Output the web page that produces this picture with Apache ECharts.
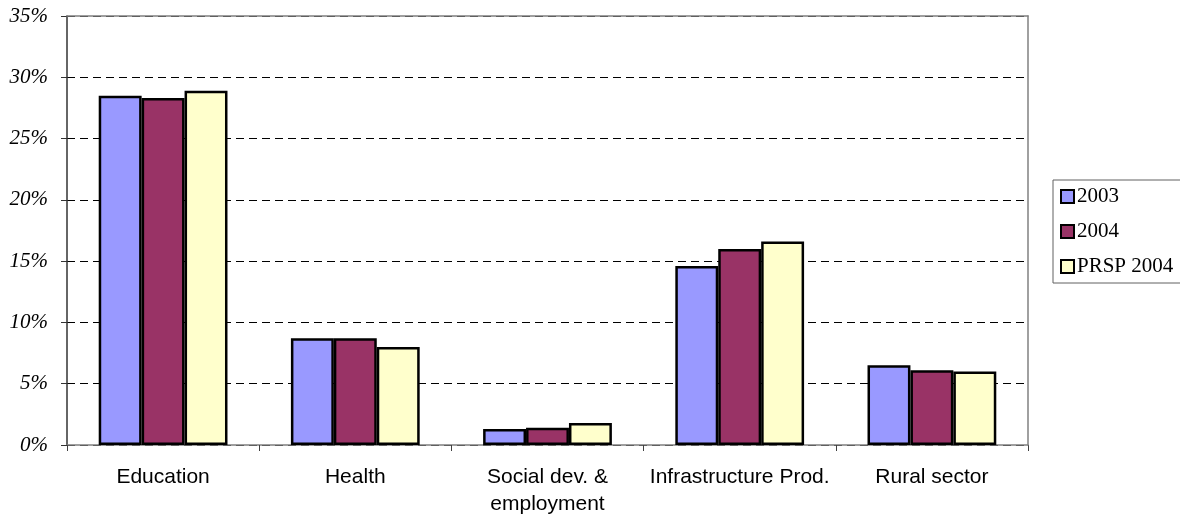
<!DOCTYPE html>
<html>
<head>
<meta charset="utf-8">
<script src="https://cdn.jsdelivr.net/npm/echarts@6/dist/echarts.min.js"></script>
<style>
  html, body { margin: 0; padding: 0; background: #fff; }
  #chart { width: 1180px; height: 514px; }
</style>
</head>
<body>
<div id="chart"></div>
<script>
// Share of spending by sector (%)
const categories = ['Education', 'Health', 'Social dev. &\nemployment', 'Infrastructure Prod.', 'Rural sector'];
const values2003 = [28.5, 8.7, 1.3, 14.6, 6.5];
const values2004 = [28.3, 8.7, 1.4, 16.0, 6.1];
const valuesPrsp2004 = [28.9, 8.0, 1.8, 16.6, 6.0];
const seriesNames = ['2003', '2004', 'PRSP 2004'];
const yTicks = { min: 0, max: 35, step: 5 };

const colors = ['#9999FF', '#993366', '#FFFFCC'];

const chart = echarts.init(document.getElementById('chart'), null, { renderer: 'canvas' });

function barSeries(name, data, color) {
  return {
    name: name,
    type: 'bar',
    data: data,
    barGap: '0%',
    barCategoryGap: '33%',
    itemStyle: { color: color, borderColor: '#000', borderWidth: 2.5 },
    emphasis: { disabled: true }
  };
}

chart.setOption({
  animation: false,
  backgroundColor: '#fff',
  grid: { left: 67, right: 152, top: 16, bottom: 69, containLabel: false, outerBoundsMode: 'none' },
  legend: {
    orient: 'vertical',
    left: 1053,
    top: 180,
    data: seriesNames,
    itemWidth: 13,
    itemHeight: 13,
    itemGap: 14,
    padding: [6, 8, 6, 7],
    borderColor: '#606060',
    borderWidth: 1,
    icon: 'rect',
    itemStyle: { borderColor: '#000', borderWidth: 2 },
    textStyle: { fontFamily: '"Liberation Serif", "Times New Roman", serif', fontSize: 21, color: '#000', padding: [0, 0, 0, -2] }
  },
  xAxis: [{
    type: 'category',
    data: categories,
    boundaryGap: true,
    axisLine: { lineStyle: { color: '#808080', width: 1.5 } },
    axisTick: { show: true, length: 6, lineStyle: { color: '#404040' } },
    axisLabel: {
      fontFamily: '"Liberation Sans", Arial, sans-serif',
      fontSize: 21,
      color: '#000',
      margin: 19,
      lineHeight: 27,
      interval: 0
    }
  }, {
    // top frame edge
    type: 'category',
    data: categories,
    position: 'top',
    z: 5,
    axisLine: { show: true, onZero: false, lineStyle: { color: '#808080', width: 1.5 } },
    axisTick: { show: false },
    axisLabel: { show: false }
  }],
  yAxis: [{
    type: 'value',
    min: yTicks.min,
    max: yTicks.max,
    interval: yTicks.step,
    axisLine: { show: true, lineStyle: { color: '#333', width: 1.5 } },
    axisTick: { show: true, length: 6, lineStyle: { color: '#333' } },
    axisLabel: {
      formatter: '{value}%',
      fontFamily: '"Liberation Serif", "Times New Roman", serif',
      fontStyle: 'italic',
      fontSize: 21,
      color: '#000',
      margin: 19
    },
    splitLine: { show: true, lineStyle: { color: '#000', type: [8, 5], width: 1 } }
  }, {
    // right frame edge
    type: 'value',
    position: 'right',
    min: yTicks.min,
    max: yTicks.max,
    interval: yTicks.step,
    z: 5,
    axisLine: { show: true, onZero: false, lineStyle: { color: '#808080', width: 1.5 } },
    axisTick: { show: false },
    axisLabel: { show: false },
    splitLine: { show: false }
  }],
  series: [
    barSeries(seriesNames[0], values2003, colors[0]),
    barSeries(seriesNames[1], values2004, colors[1]),
    barSeries(seriesNames[2], valuesPrsp2004, colors[2])
  ]
});
</script>
</body>
</html>
